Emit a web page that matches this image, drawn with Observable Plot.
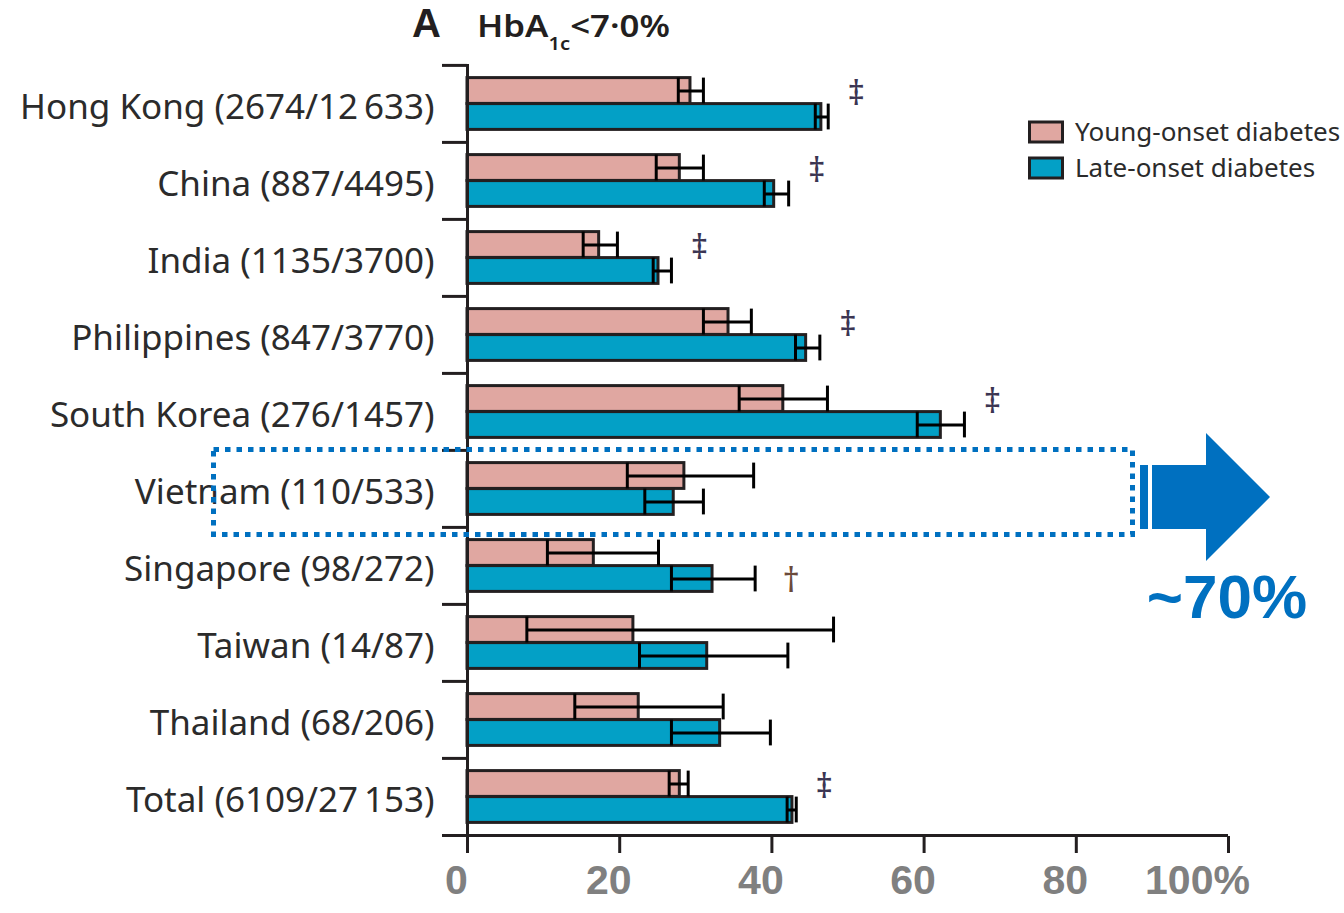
<!DOCTYPE html>
<html>
<head>
<meta charset="utf-8">
<script src="https://cdn.jsdelivr.net/npm/d3@7"></script>
<script src="https://cdn.jsdelivr.net/npm/@observablehq/plot@0.6"></script>
<style>
  body { margin: 0; background: #fff; }
  #wrap { position: relative; width: 1344px; height: 913px; overflow: hidden; background: #fff; }
  #wrap > svg { position: absolute; left: 0; top: 0; }
  #overlay { pointer-events: none; }
</style>
</head>
<body>
<div id="wrap"></div>
<script>
// ---- data ----
const countries = [
  "Hong Kong (2674/12\u2009633)",
  "China (887/4495)",
  "India (1135/3700)",
  "Philippines (847/3770)",
  "South Korea (276/1457)",
  "Vietnam (110/533)",
  "Singapore (98/272)",
  "Taiwan (14/87)",
  "Thailand (68/206)",
  "Total (6109/27\u2009153)"
];
const youngValues = [29.3, 27.9, 17.3, 34.3, 41.5, 28.5, 16.6, 21.8, 22.5, 27.9];
const youngLow    = [27.7, 24.8, 15.2, 31.0, 35.7, 21.0, 10.5,  7.8, 14.1, 26.5];
const youngHigh   = [31.0, 31.0, 19.7, 37.3, 47.3, 37.6, 25.1, 48.1, 33.6, 29.0];
const lateValues  = [46.5, 40.3, 25.1, 44.5, 62.2, 27.1, 32.2, 31.5, 33.2, 42.7];
const lateLow     = [45.7, 39.0, 24.4, 43.1, 59.1, 23.3, 26.8, 22.6, 26.8, 42.0];
const lateHigh    = [47.4, 42.2, 26.8, 46.3, 65.3, 31.0, 37.8, 42.1, 39.8, 43.2];
const markers     = ["\u2021", "\u2021", "\u2021", "\u2021", "\u2021", "", "\u2020", "", "", "\u2021"];
const seriesNames = ["Young-onset diabetes", "Late-onset diabetes"];
const xTicks = [0, 20, 40, 60, 80, 100];

// ---- layout / style ----
const W = 1344, H = 913;
const mTop = 64, mBottom = 77, mLeft = 467, mRight = 116;
const band = (H - mTop - mBottom) / countries.length;
const half = band / 2;
const barH = 26;
const ink = "#231f20";
const youngColor = "#e0a7a1";
const lateColor = "#03a0c6";
const labelFont = "'Noto Sans', 'Open Sans', sans-serif";
const numFont = "'Liberation Sans', Arial, sans-serif";

const rows = countries.map((c, i) => ({
  country: c,
  young: youngValues[i], youngLow: youngLow[i], youngHigh: youngHigh[i],
  late: lateValues[i], lateLow: lateLow[i], lateHigh: lateHigh[i],
  marker: markers[i]
}));

const youngInset = {insetTop: half - barH, insetBottom: half};
const lateInset = {insetTop: half, insetBottom: half - barH};

const chart = Plot.plot({
  width: W, height: H,
  marginTop: mTop, marginBottom: mBottom, marginLeft: mLeft, marginRight: mRight,
  style: {background: "transparent", overflow: "visible", fontFamily: labelFont},
  x: {domain: [0, 100], axis: null},
  y: {domain: countries, padding: 0, axis: null},
  marks: [
    // group separator ticks on the left axis
    Plot.ruleY(countries, {y: d => d, dy: -half, x1: 0, x2: 0, insetLeft: -25, stroke: ink, strokeWidth: 3}),
    // bars
    Plot.barX(rows, {y: "country", x: "young", fill: youngColor, stroke: ink, strokeWidth: 3, ...youngInset}),
    Plot.barX(rows, {y: "country", x: "late", fill: lateColor, stroke: ink, strokeWidth: 3, ...lateInset}),
    // error bars
    Plot.link(rows, {x1: "youngLow", x2: "youngHigh", y1: "country", y2: "country", dy: -barH / 2, stroke: "#000", strokeWidth: 3}),
    Plot.tickX(rows, {x: "youngLow", y: "country", stroke: "#000", strokeWidth: 3, ...youngInset}),
    Plot.tickX(rows, {x: "youngHigh", y: "country", stroke: "#000", strokeWidth: 3, ...youngInset}),
    Plot.link(rows, {x1: "lateLow", x2: "lateHigh", y1: "country", y2: "country", dy: barH / 2, stroke: "#000", strokeWidth: 3}),
    Plot.tickX(rows, {x: "lateLow", y: "country", stroke: "#000", strokeWidth: 3, ...lateInset}),
    Plot.tickX(rows, {x: "lateHigh", y: "country", stroke: "#000", strokeWidth: 3, ...lateInset}),
    // significance markers
    Plot.text(rows.filter(d => d.marker === "\u2021"), {x: d => Math.max(d.youngHigh, d.lateHigh), y: "country", text: "marker", dx: 28, dy: -10, fontSize: 34, fill: "#3b3552"}),
    Plot.text(rows.filter(d => d.marker === "\u2020"), {x: d => Math.max(d.youngHigh, d.lateHigh), y: "country", text: "marker", dx: 36, dy: 15, fontSize: 34, fill: "#6b4a3a"}),
    // axes lines
    Plot.ruleX([0], {stroke: ink, strokeWidth: 3}),
    Plot.ruleY([countries[countries.length - 1]], {y: d => d, dy: half, x1: 0, x2: 100, insetLeft: -25, stroke: ink, strokeWidth: 3}),
    Plot.axisX({ticks: xTicks, tickSize: 17, tickFormat: () => "", stroke: ink, strokeWidth: 3}),
    // x tick labels
    Plot.text(xTicks.filter(d => d < 100), {x: d => d, frameAnchor: "bottom", dy: 57, dx: -11, text: d => String(d),
      fontSize: 41, fontWeight: "bold", fontFamily: numFont, fill: "#808080"}),
    Plot.text(xTicks.filter(d => d === 100), {x: d => d, frameAnchor: "bottom", dy: 57, dx: -31, text: d => d + "%",
      fontSize: 41, fontWeight: "bold", fontFamily: numFont, fill: "#808080"}),
    // y labels
    Plot.text(countries, {y: d => d, x: 0, dx: -33, dy: 4, text: d => d, textAnchor: "end",
      fontSize: 35, fill: "#2b2b2b", fontFamily: labelFont})
  ]
});
document.getElementById("wrap").appendChild(chart);

// ---- overlay: title, legend, annotation ----
const ov = d3.select("#wrap").append("svg").attr("id", "overlay")
  .attr("width", W).attr("height", H).attr("xmlns", "http://www.w3.org/2000/svg");

ov.append("text").attr("x", 412).attr("y", 37)
  .attr("font-family", numFont).attr("font-weight", "bold")
  .attr("font-size", 40).attr("fill", ink).text("A");
const t = ov.append("text").attr("x", 477).attr("y", 37)
  .attr("font-family", labelFont).attr("font-weight", 600).attr("font-size", 31).attr("fill", ink)
  .attr("textLength", 193).attr("lengthAdjust", "spacingAndGlyphs");
t.append("tspan").text("HbA");
t.append("tspan").attr("font-size", 18).attr("dy", 13).text("1c");
t.append("tspan").attr("dy", -13).text("<7\u00b70%");

// legend
const legendColors = [youngColor, lateColor];
seriesNames.forEach((name, i) => {
  const y0 = 122 + i * 36;
  ov.append("rect").attr("x", 1029.5).attr("y", y0).attr("width", 33).attr("height", 20)
    .attr("fill", legendColors[i]).attr("stroke", ink).attr("stroke-width", 3);
  ov.append("text").attr("x", 1075).attr("y", y0 + 19)
    .attr("font-family", labelFont).attr("font-size", 26).attr("fill", "#2b2b2b").text(name);
});

// dotted box around Vietnam
ov.append("rect").attr("x", 213.5).attr("y", 449.5).attr("width", 919).attr("height", 85)
  .attr("fill", "none").attr("stroke", "#0070c0").attr("stroke-width", 5).attr("stroke-dasharray", "5.5 6");
// arrow
ov.append("rect").attr("x", 1140).attr("y", 465).attr("width", 8).attr("height", 64).attr("fill", "#0070c0");
ov.append("polygon")
  .attr("points", "1152,465 1206,465 1206,433 1270,497 1206,561 1206,529 1152,529")
  .attr("fill", "#0070c0");
ov.append("text").attr("x", 1227).attr("y", 618).attr("text-anchor", "middle")
  .attr("font-family", numFont).attr("font-weight", "bold")
  .attr("font-size", 62).attr("fill", "#0070c0").text("~70%");
</script>
</body>
</html>
